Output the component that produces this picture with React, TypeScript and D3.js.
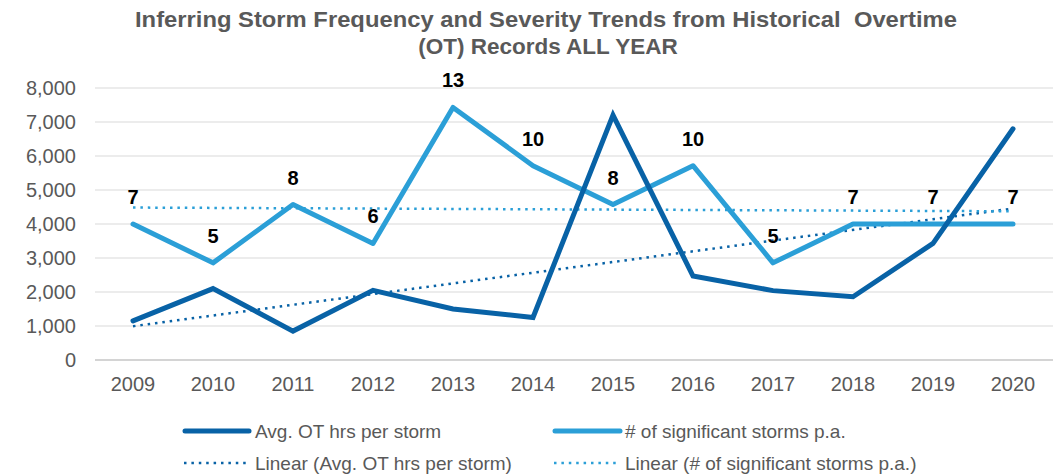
import React from "react";
import * as d3 from "d3";

const years = ["2009", "2010", "2011", "2012", "2013", "2014", "2015", "2016", "2017", "2018", "2019", "2020"];
const avgOtHours = [1150, 2100, 850, 2050, 1500, 1250, 7200, 2470, 2040, 1860, 3430, 6800];
const stormCounts = [7, 5, 8, 6, 13, 10, 8, 10, 5, 7, 7, 7];
const yTicks = [0, 1000, 2000, 3000, 4000, 5000, 6000, 7000, 8000];

const titleLines = [
  "Inferring Storm Frequency and Severity Trends from Historical  Overtime",
  "(OT) Records ALL YEAR",
];
const legendLabels = [
  "Avg. OT hrs per storm",
  "# of significant storms p.a.",
  "Linear (Avg. OT hrs per storm)",
  "Linear (# of significant storms p.a.)",
];

const W = 1063;
const H = 476;
const DARK = "#0862a6";
const LIGHT = "#2b9fd7";
const GRAY = "#595959";
const FONT = "'Liberation Sans', Arial, sans-serif";

// least squares fit over category index, like Excel's linear trendline
function linearFit(vals: number[]) {
  const n = vals.length;
  const mx = (n - 1) / 2;
  const my = d3.mean(vals) as number;
  let sxy = 0;
  let sxx = 0;
  vals.forEach((v, i) => {
    sxy += (i - mx) * (v - my);
    sxx += (i - mx) * (i - mx);
  });
  const slope = sxy / sxx;
  return (i: number) => my + slope * (i - mx);
}

export default function App() {
  const x = d3.scaleBand<string>().domain(years).range([93, 1053]);
  const cx = (yr: string) => (x(yr) as number) + x.bandwidth() / 2;
  const y = d3.scaleLinear().domain([0, 8000]).range([360, 88]);
  const y2 = d3.scaleLinear().domain([0, 14]).range([360, 88]);

  const line = d3
    .line<number>()
    .x((_, i) => cx(years[i]))
    .y(d => y(d));
  const line2 = d3
    .line<number>()
    .x((_, i) => cx(years[i]))
    .y(d => y2(d));

  const fitA = linearFit(avgOtHours);
  const fitB = linearFit(stormCounts);
  const last = years.length - 1;

  const dots = "2.5 4.9";

  return (
    <svg width={W} height={H} style={{ position: "absolute", left: 0, top: 0 }} fontFamily={FONT}>
      <rect width={W} height={H} fill="#fff" />
      <text
        x={546}
        y={27}
        textAnchor="middle"
        fontSize={22.5}
        fontWeight="bold"
        fill={GRAY}
        textLength={822}
        lengthAdjust="spacingAndGlyphs"
        style={{ whiteSpace: "pre" }}
      >
        {titleLines[0]}
      </text>
      <text x={548} y={54} textAnchor="middle" fontSize={22.5} fontWeight="bold" fill={GRAY}>
        {titleLines[1]}
      </text>

      {yTicks.map(t => (
        <g key={t}>
          <line
            x1={95}
            x2={1053}
            y1={y(t)}
            y2={y(t)}
            stroke={t === 0 ? "#d4d4d4" : "#e6e6e6"}
            strokeWidth={t === 0 ? 2 : 1.5}
          />
          <text x={76} y={y(t) + 7} textAnchor="end" fontSize={20} fill={GRAY}>
            {d3.format(",")(t)}
          </text>
        </g>
      ))}

      {years.map(yr => (
        <text key={yr} x={cx(yr)} y={391} textAnchor="middle" fontSize={20} fill={GRAY}>
          {yr}
        </text>
      ))}

      <line
        x1={cx(years[0])}
        x2={cx(years[last])}
        y1={y(fitA(0))}
        y2={y(fitA(last))}
        stroke={DARK}
        strokeWidth={2.5}
        strokeDasharray={dots}
      />
      <line
        x1={cx(years[0])}
        x2={cx(years[last])}
        y1={y2(fitB(0))}
        y2={y2(fitB(last))}
        stroke={LIGHT}
        strokeWidth={2.5}
        strokeDasharray={dots}
      />

      <path d={line2(stormCounts) as string} fill="none" stroke={LIGHT} strokeWidth={5} strokeLinejoin="round" strokeLinecap="round" />
      <path d={line(avgOtHours) as string} fill="none" stroke={DARK} strokeWidth={5} strokeLinejoin="miter" strokeLinecap="round" />

      {stormCounts.map((v, i) => (
        <text key={i} x={cx(years[i])} y={y2(v) - 20} textAnchor="middle" fontSize={20} fontWeight="bold" fill="#000">
          {v}
        </text>
      ))}

      <g fontSize={19} fill={GRAY}>
        <line x1={185} x2={249} y1={431} y2={431} stroke={DARK} strokeWidth={5} strokeLinecap="round" />
        <text x={255} y={438}>{legendLabels[0]}</text>
        <line x1={555} x2={620} y1={431} y2={431} stroke={LIGHT} strokeWidth={5} strokeLinecap="round" />
        <text x={625} y={438}>{legendLabels[1]}</text>
        <line x1={184} x2={250} y1={463} y2={463} stroke={DARK} strokeWidth={2.5} strokeDasharray={dots} />
        <text x={255} y={470}>{legendLabels[2]}</text>
        <line x1={554} x2={620} y1={463} y2={463} stroke={LIGHT} strokeWidth={2.5} strokeDasharray={dots} />
        <text x={625} y={470}>{legendLabels[3]}</text>
      </g>
    </svg>
  );
}
